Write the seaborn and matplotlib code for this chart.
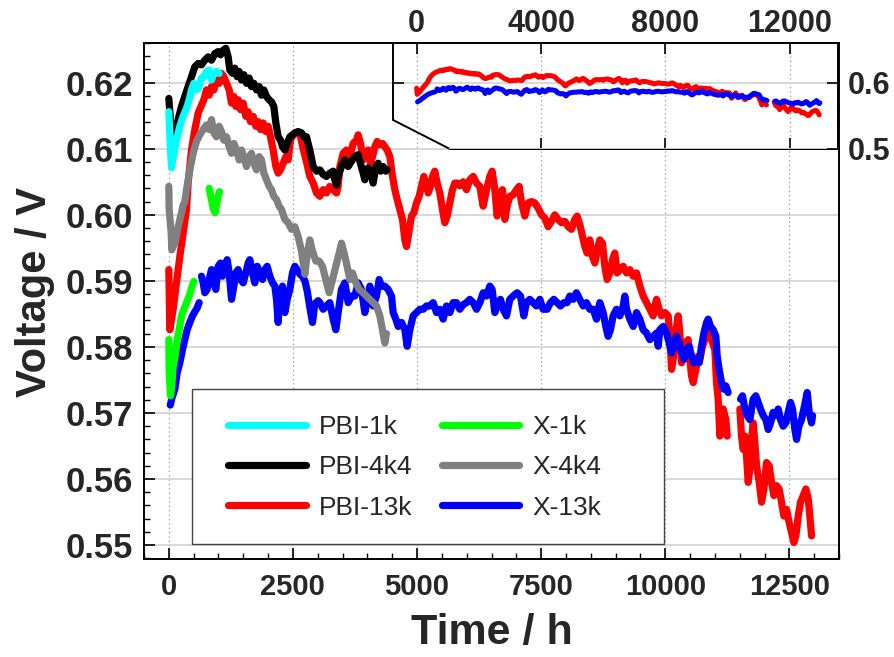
import numpy as np
import pandas as pd
import matplotlib
matplotlib.use("Agg")
import matplotlib.pyplot as plt
import seaborn as sns
from matplotlib.patches import Polygon, Rectangle
from matplotlib.lines import Line2D
from matplotlib.ticker import MultipleLocator, FixedLocator, FormatStrFormatter

# ---------------- data (time in h, voltage in V; None = gap) ----------------
PBI_1K_T = [0, 34, 54, 101, 154, 222, 289, 356, 410, 457, 504, 557, 611, 658, 705, 759, 812, 860, 907, 960, 1014]
PBI_1K_V = [0.6156, 0.6098, 0.6071, 0.6093, 0.6113, 0.6134, 0.6149, 0.6161, 0.6174, 0.6189, 0.6199, 0.6189,
            0.6194, 0.6207, 0.6209, 0.6217, 0.6219, 0.6204, 0.6214, 0.6217, 0.6214]

PBI_4K4_T = [0, 74, 121, 188, 255, 322, 389, 457, 524, 591,
             658, 725, 792, 860, 927, 994, 1041, 1095, 1148, 1195,
             1229, 1283, 1330, 1377, 1417, 1464, 1511, 1565, 1618, 1665,
             1712, 1766, 1820, 1867, 1914, 1968, 2021, 2068, 2115, 2156,
             2203, 2250, 2290, 2337, 2384, 2438, 2491, 2538, 2605, 2673,
             2720, 2773, 2840, 2908, 2975, 3042, 3109, 3176, 3243, 3310,
             3344, 3378, 3411, 3478, 3546, 3613, 3680, 3747, 3814, 3848,
             3915, 3948, 4016, 4083, 4116, 4170, 4217, 4264, 4318, 4371,
             4398]
PBI_4K4_V = [0.6176, 0.6103, 0.6118, 0.6144, 0.6164, 0.6179, 0.6194, 0.6209, 0.6224, 0.6229,
             0.6227, 0.6234, 0.6239, 0.6234, 0.6244, 0.6247, 0.6242, 0.6249, 0.6252, 0.6239,
             0.6219, 0.6214, 0.6222, 0.6209, 0.6217, 0.6204, 0.6212, 0.6199, 0.6207, 0.6194,
             0.6199, 0.6189, 0.6194, 0.6181, 0.6189, 0.6179, 0.6174, 0.6171, 0.6164, 0.6139,
             0.6118, 0.6113, 0.6103, 0.6098, 0.6108, 0.6118, 0.6121, 0.6124, 0.6126, 0.6124,
             0.6118, 0.6118, 0.6098, 0.6073, 0.6066, 0.6068, 0.6061, 0.6058, 0.6063, 0.6066,
             0.6053, 0.6045, 0.6058, 0.6073, 0.6083, 0.6073, 0.6081, 0.6088, 0.6091, 0.6081,
             0.6063, 0.6053, 0.6071, 0.6061, 0.6048, 0.6073, 0.6078, 0.6066, 0.6073, 0.6066,
             0.6068]

PBI_13K_T = [0, 20, 87, 154, 222, 289, 356, 389, 457, 524, 591, 658, 705, 759, 812, 860, 907, 960, 1014, 1061,
             1108, 1162, 1216, 1263, 1310, 1350, 1397, 1444, 1498, 1551, 1598, 1645, 1699, 1753, 1800, 1847, 1900, 1954, 2001, 2048,
             2102, 2156, 2203, 2250, 2303, 2357, 2404, 2451, 2505, 2558, 2605, 2653, 2706, 2773, 2840, 2908, 2975, 3042, 3109, 3176,
             3243, 3310, 3378, 3411, 3445, 3512, 3579, 3646, 3713, 3781, 3814, 3861, 3915, 3968, 4016, 4063, 4103, 4150, 4197, 4251,
             4304, 4351, 4398, 4452, 4506, 4553, 4600, 4653, 4707, 4754, 4788, 4835, 4888, 4935, 4989, 5043, 5090, 5137, 5177, 5224,
             5271, 5311, 5358, 5405, 5459, 5512, 5559, 5606, 5660, 5714, 5761, 5808, 5861, 5929, 5996, 6063, 6131, 6198, 6265, 6332,
             6399, 6466, 6513, 6567, 6614, 6668, 6721, 6768, 6815, 6869, 6936, 7003, 7057, 7104, 7171, 7238, 7305, 7372, 7440, 7507,
             7574, 7641, 7708, 7775, 7842, 7910, 7977, 8044, 8111, 8178, 8225, 8279, 8333, 8380, 8427, 8480, 8534, 8581, 8628, 8682,
             8735, 8782, 8829, 8883, 8937, 8984, 9031, 9085, 9153, 9220, 9287, 9354, 9421, 9488, 9555, 9623, 9690, 9757, 9791, 9824,
             9878, 9925, 9992, 10059, 10093, 10127, 10160, 10194, 10227, 10261, 10294, 10328, 10362, 10415, 10462, 10496, 10530, 10563, 10617, 10664,
             10698, 10751, 10798, 10845, 10899, 10952, 10999, 11033, 11066, 11100, 11134, 11167, 11221, 11248, 11375, 11503, 11536, 11570, 11604, 11637,
             11671, 11704, 11738, 11772, 11805, 11839, 11893, 11940, 11987, 12040, 12094, 12141, 12188, 12242, 12295, 12342, 12389, 12443, 12497, 12544,
             12591, 12631, 12678, 12725, 12779, 12833, 12880, 12913, 12947]
PBI_13K_V = [0.5917, 0.5826, 0.5857, 0.5897, 0.5937, 0.5973, 0.6008, 0.6048, 0.6098, 0.6129, 0.6154, 0.6166, 0.6174, 0.6189, 0.6181, 0.6194, 0.6189, 0.6204, 0.6199, 0.6214,
             0.6209, 0.6199, 0.6189, 0.6169, 0.6179, 0.6164, 0.6174, 0.6159, 0.6169, 0.6149, 0.6156, 0.6141, 0.6149, 0.6134, 0.6141, 0.6129, 0.6139, 0.6126, 0.6134, 0.6118,
             0.6098, 0.6073, 0.6063, 0.6068, 0.6078, 0.6088, 0.6083, 0.6113, 0.6121, 0.6124, 0.6124, 0.6118, 0.6100, 0.6080, 0.6058, 0.6048, 0.6033, 0.6028, 0.6038, 0.6033,
             0.6043, 0.6038, 0.6033, 0.6043, 0.6073, 0.6093, 0.6098, 0.6088, 0.6108, 0.6113, 0.6121, 0.6108, 0.6083, 0.6093, 0.6098, 0.6078, 0.6088, 0.6103, 0.6111, 0.6106,
             0.6108, 0.6103, 0.6098, 0.6088, 0.6058, 0.6038, 0.6023, 0.6008, 0.5993, 0.5962, 0.5952, 0.5973, 0.5998, 0.6003, 0.6018, 0.6028, 0.6043, 0.6058, 0.6048, 0.6033,
             0.6043, 0.6058, 0.6066, 0.6048, 0.6033, 0.6008, 0.5988, 0.5998, 0.6018, 0.6038, 0.6048, 0.6048, 0.6044, 0.6050, 0.6038, 0.6053, 0.6058, 0.6048, 0.6043, 0.6013,
             0.6038, 0.6058, 0.6066, 0.6038, 0.5998, 0.6033, 0.6038, 0.5993, 0.6013, 0.6028, 0.6030, 0.6038, 0.6043, 0.6018, 0.5998, 0.6018, 0.6020, 0.6018, 0.6010, 0.6000,
             0.5995, 0.5982, 0.5990, 0.6000, 0.5993, 0.5988, 0.5990, 0.5982, 0.5978, 0.5993, 0.5998, 0.5985, 0.5967, 0.5952, 0.5942, 0.5962, 0.5937, 0.5927, 0.5947, 0.5962,
             0.5957, 0.5922, 0.5902, 0.5912, 0.5932, 0.5942, 0.5912, 0.5917, 0.5922, 0.5912, 0.5917, 0.5907, 0.5912, 0.5892, 0.5877, 0.5867, 0.5857, 0.5847, 0.5862, 0.5872,
             0.5857, 0.5847, 0.5852, 0.5847, 0.5816, 0.5766, 0.5781, 0.5811, 0.5831, 0.5847, 0.5821, 0.5776, 0.5796, 0.5806, 0.5811, 0.5781, 0.5756, 0.5746, 0.5766, 0.5786,
             0.5781, 0.5801, 0.5811, 0.5837, 0.5821, 0.5806, 0.5796, 0.5746, 0.5721, 0.5665, 0.5680, 0.5706, 0.5690, 0.5665, None, 0.5706, 0.5665, 0.5645, 0.5665, 0.5635,
             0.5595, 0.5615, 0.5660, 0.5685, 0.5655, 0.5620, 0.5595, 0.5565, 0.5585, 0.5625, 0.5620, 0.5595, 0.5575, 0.5590, 0.5585, 0.5565, 0.5544, 0.5554, 0.5534, 0.5519,
             0.5504, 0.5514, 0.5544, 0.5565, 0.5575, 0.5585, 0.5570, 0.5544, 0.5514]

X_1K_T = [0, 7, 34, 60, 87, 128, 168, 208, 255, 302, 356, 410, 457, 504, 650, 812, 853, 893, 933, 960, 994, 1021]
X_1K_V = [0.5811, 0.5761, 0.5726, 0.5741, 0.5771, 0.5786, 0.5811, 0.5826, 0.5847, 0.5857, 0.5867, 0.5877,
          0.5889, 0.5899, None, 0.6040, 0.6025, 0.6010, 0.6003, 0.6015, 0.6028, 0.6035]

X_4K4_T = [0, 7, 47, 60, 87, 121, 154, 188, 222, 255,
           289, 322, 356, 423, 490, 557, 624, 692, 759, 812,
           860, 907, 960, 1014, 1061, 1108, 1162, 1216, 1263, 1310,
           1363, 1417, 1464, 1511, 1565, 1618, 1665, 1712, 1766, 1820,
           1867, 1914, 1968, 2021, 2068, 2115, 2169, 2223, 2270, 2337,
           2404, 2471, 2538, 2605, 2673, 2740, 2787, 2840, 2894, 2961,
           3028, 3095, 3162, 3230, 3297, 3364, 3431, 3478, 3532, 3592,
           3646, 3700, 3767, 3834, 3915, 3982, 4049, 4116, 4183, 4251,
           4304, 4351, 4384]
X_4K4_V = [0.6043, 0.6008, 0.5973, 0.5947, 0.5952, 0.5957, 0.5967, 0.5982, 0.5993, 0.6003,
           0.6015, 0.6020, 0.6038, 0.6068, 0.6093, 0.6111, 0.6121, 0.6129, 0.6136, 0.6129,
           0.6144, 0.6124, 0.6118, 0.6134, 0.6126, 0.6113, 0.6118, 0.6103, 0.6093, 0.6108,
           0.6098, 0.6083, 0.6098, 0.6088, 0.6073, 0.6088, 0.6093, 0.6078, 0.6068, 0.6088,
           0.6083, 0.6063, 0.6053, 0.6043, 0.6038, 0.6028, 0.6023, 0.6013, 0.6008, 0.5993,
           0.5988, 0.5978, 0.5982, 0.5967, 0.5945, 0.5910, 0.5940, 0.5962, 0.5945, 0.5930,
           0.5930, 0.5922, 0.5902, 0.5882, 0.5902, 0.5922, 0.5942, 0.5957, 0.5942, 0.5922,
           0.5902, 0.5912, 0.5897, 0.5887, 0.5882, 0.5877, 0.5872, 0.5867, 0.5862, 0.5847,
           0.5826, 0.5806, 0.5820]

X_13K_T = [30, 60, 121, 168, 222, 275, 322, 369, 423, 477, 530, 571, 611, 635, 658, 692, 725, 772, 812, 860,
           907, 947, 994, 1041, 1081, 1128, 1175, 1216, 1263, 1310, 1350, 1397, 1444, 1498, 1551, 1598, 1632, 1686, 1733, 1780,
           1834, 1887, 1934, 1981, 2035, 2089, 2136, 2169, 2203, 2236, 2290, 2337, 2384, 2438, 2491, 2538, 2585, 2639, 2693, 2740,
           2787, 2840, 2894, 2941, 3008, 3042, 3109, 3176, 3243, 3310, 3364, 3411, 3478, 3546, 3613, 3680, 3747, 3814, 3881, 3948,
           4016, 4049, 4116, 4183, 4237, 4284, 4351, 4418, 4485, 4519, 4573, 4620, 4687, 4754, 4801, 4855, 4922, 4989, 5056, 5123,
           5190, 5258, 5325, 5392, 5459, 5526, 5593, 5660, 5727, 5794, 5861, 5929, 5996, 6063, 6131, 6198, 6265, 6332, 6399, 6466,
           6513, 6567, 6634, 6681, 6735, 6802, 6869, 6936, 7017, 7084, 7151, 7204, 7271, 7339, 7406, 7473, 7540, 7621, 7688, 7755,
           7822, 7889, 7957, 8024, 8077, 8144, 8211, 8279, 8346, 8413, 8480, 8547, 8615, 8682, 8749, 8802, 8849, 8896, 8950, 9017,
           9085, 9153, 9186, 9220, 9287, 9354, 9421, 9488, 9555, 9623, 9690, 9757, 9824, 9858, 9891, 9958, 10026, 10079, 10127, 10173,
           10227, 10281, 10328, 10375, 10428, 10482, 10530, 10577, 10630, 10684, 10731, 10778, 10832, 10865, 10912, 10966, 11019, 11046, 11086, 11133,
           11180, 11220, 11267, 11390, 11516, 11556, 11604, 11651, 11704, 11738, 11772, 11825, 11872, 11919, 11973, 12027, 12074, 12121, 12174, 12228,
           12275, 12322, 12376, 12429, 12477, 12524, 12564, 12611, 12645, 12692, 12745, 12792, 12833, 12860, 12900, 12947, 12967]
X_13K_V = [0.5712, 0.5722, 0.5736, 0.5761, 0.5776, 0.5796, 0.5811, 0.5826, 0.5837, 0.5847, 0.5854, 0.5859, 0.5867, None, 0.5907, 0.5897, 0.5882, 0.5887, 0.5902, 0.5917,
           0.5897, 0.5887, 0.5922, 0.5927, 0.5907, 0.5922, 0.5932, 0.5912, 0.5872, 0.5892, 0.5912, 0.5917, 0.5902, 0.5897, 0.5912, 0.5927, 0.5932, 0.5912, 0.5897, 0.5922,
           0.5912, 0.5902, 0.5917, 0.5922, 0.5907, 0.5897, 0.5892, 0.5872, 0.5837, 0.5877, 0.5892, 0.5852, 0.5872, 0.5887, 0.5912, 0.5922, 0.5917, 0.5910, 0.5907, 0.5900,
           0.5885, 0.5860, 0.5837, 0.5865, 0.5870, 0.5867, 0.5857, 0.5862, 0.5867, 0.5842, 0.5826, 0.5852, 0.5887, 0.5897, 0.5867, 0.5877, 0.5877, 0.5897, 0.5887, 0.5852,
           0.5877, 0.5892, 0.5862, 0.5877, 0.5902, 0.5892, 0.5892, 0.5887, 0.5877, 0.5852, 0.5842, 0.5831, 0.5837, 0.5826, 0.5801, 0.5826, 0.5847, 0.5852, 0.5857, 0.5857,
           0.5862, 0.5862, 0.5867, 0.5852, 0.5857, 0.5842, 0.5862, 0.5852, 0.5867, 0.5867, 0.5857, 0.5864, 0.5867, 0.5872, 0.5867, 0.5857, 0.5867, 0.5882, 0.5877, 0.5892,
           0.5887, 0.5852, 0.5867, 0.5872, 0.5857, 0.5847, 0.5872, 0.5877, 0.5882, 0.5877, 0.5847, 0.5867, 0.5872, 0.5867, 0.5862, 0.5872, 0.5857, 0.5857, 0.5867, 0.5872,
           0.5867, 0.5862, 0.5867, 0.5867, 0.5877, 0.5872, 0.5882, 0.5872, 0.5862, 0.5867, 0.5857, 0.5857, 0.5842, 0.5867, 0.5852, 0.5831, 0.5816, 0.5826, 0.5847, 0.5857,
           0.5847, 0.5862, 0.5877, 0.5857, 0.5842, 0.5831, 0.5852, 0.5842, 0.5826, 0.5821, 0.5811, 0.5816, 0.5821, 0.5801, 0.5826, 0.5831, 0.5821, 0.5806, 0.5791, 0.5801,
           0.5816, 0.5806, 0.5791, 0.5781, 0.5796, 0.5801, 0.5786, 0.5776, 0.5781, 0.5776, 0.5801, 0.5821, 0.5837, 0.5842, 0.5831, 0.5826, 0.5816, 0.5786, 0.5766, 0.5746,
           0.5736, 0.5741, 0.5731, None, 0.5721, 0.5726, 0.5706, 0.5696, 0.5690, 0.5706, 0.5721, 0.5726, 0.5716, 0.5706, 0.5696, 0.5690, 0.5675, 0.5685, 0.5701, 0.5696,
           0.5706, 0.5690, 0.5680, 0.5685, 0.5701, 0.5716, 0.5706, 0.5675, 0.5660, 0.5680, 0.5690, 0.5706, 0.5721, 0.5731, 0.5701, 0.5685, 0.5696]

LEGEND_LABELS = ["PBI-1k", "PBI-4k4", "PBI-13k", "X-1k", "X-4k4", "X-13k"]
MAIN_XTICKS = [0, 2500, 5000, 7500, 10000, 12500]
INSET_XTICKS = [0, 4000, 8000, 12000]
INSET_YTICKS = [0.5, 0.6]


def frame(t, v):
    t = np.asarray(t, dtype=float)
    v = np.array([np.nan if x is None else x for x in v], dtype=float)
    seg = np.cumsum(np.isnan(v))
    df = pd.DataFrame({"t": t, "v": v, "seg": seg})
    return df.dropna().reset_index(drop=True)


sns.set_theme(style="white")
plt.rcParams["font.family"] = ["Liberation Sans", "DejaVu Sans"]
plt.rcParams["font.weight"] = "bold"
plt.rcParams["axes.labelweight"] = "bold"

colors = {"PBI-1k": "#00ffff", "PBI-4k4": "#000000", "PBI-13k": "#ff0000",
          "X-1k": "#00ff00", "X-4k4": "#808080", "X-13k": "#0000ff"}
data = {"PBI-1k": (PBI_1K_T, PBI_1K_V), "PBI-4k4": (PBI_4K4_T, PBI_4K4_V),
        "PBI-13k": (PBI_13K_T, PBI_13K_V), "X-1k": (X_1K_T, X_1K_V),
        "X-4k4": (X_4K4_T, X_4K4_V), "X-13k": (X_13K_T, X_13K_V)}
draw_order = ["PBI-13k", "X-13k", "X-4k4", "PBI-4k4", "PBI-1k", "X-1k"]

W, H = 895, 657
fig = plt.figure(figsize=(W / 100, H / 100), dpi=100)
fig.patch.set_facecolor("white")
ax = fig.add_axes([144 / W, 1 - 559 / H, 695 / W, 516 / H])
ax.set_facecolor("white")

for i, name in enumerate(draw_order):
    df = frame(*data[name])
    sns.lineplot(data=df, x="t", y="v", units="seg", estimator=None, sort=False,
                 color=colors[name], lw=5.2, ax=ax, zorder=2 + 0.1 * i, legend=False,
                 solid_capstyle="round", solid_joinstyle="round")

ax.set_xlim(-500, 13500)
ax.set_ylim(0.5479, 0.6260)
ax.xaxis.set_major_locator(FixedLocator(MAIN_XTICKS))
ax.xaxis.set_minor_locator(MultipleLocator(500))
ax.yaxis.set_major_locator(MultipleLocator(0.01))
ax.yaxis.set_minor_locator(MultipleLocator(0.002))
ax.yaxis.set_major_formatter(FormatStrFormatter("%.2f"))
ax.tick_params(axis="both", which="both", direction="in", top=False, right=False,
               color="black", bottom=True, left=True)
ax.tick_params(which="major", length=8, width=1.2)
ax.tick_params(which="minor", length=4.5, width=1.0)
ax.tick_params(axis="x", which="major", labelsize=21, pad=10)
ax.tick_params(axis="y", which="major", labelsize=25, pad=8)
for lbl in ax.get_xticklabels() + ax.get_yticklabels():
    lbl.set_fontweight("bold")
ax.set_axisbelow(True)
ax.yaxis.grid(True, which="major", color="#d6d6d6", lw=1.3, ls="-")
ax.xaxis.grid(True, which="major", color="#9a9a9a", lw=0.9, ls=(0, (1, 2.5)))
for s in ax.spines.values():
    s.set_color("black")
    s.set_linewidth(1.4)
ax.set_xlabel("Time / h", fontsize=31, fontweight="bold", labelpad=9)
ax.set_ylabel("Voltage / V", fontsize=30, fontweight="bold")
ax.yaxis.set_label_coords((55 - 144) / 695, (559 - 292) / 516)

# legend: frame drawn as its own box, entries placed inside
box = Rectangle((192 / W, 1 - 544 / H), (664 - 192) / W, (544 - 389) / H,
                transform=fig.transFigure, facecolor="white", edgecolor="#444444",
                lw=1.0, zorder=9, clip_on=False)
ax.add_patch(box)
handles = [Line2D([0], [0], color=colors[n], lw=5.2) for n in LEGEND_LABELS]
leg = ax.legend(handles, LEGEND_LABELS, ncol=2, loc="upper left",
                bbox_to_anchor=((228 - 144) / 695, (559 - 415) / 516),
                prop={"size": 19, "weight": "normal"},
                frameon=False, handlelength=2.95, handletextpad=0.5, columnspacing=1.1,
                borderpad=0, labelspacing=0.62, borderaxespad=0)
leg.set_zorder(10)

# ---------------- inset ----------------
axin = fig.add_axes([393 / W, 1 - 149 / H, 445 / W, 106 / H])
axin.patch.set_visible(False)
poly = Polygon([(0, 1), (0, 0.274), (0.128, 0), (1, 0), (1, 1)], closed=True,
               transform=axin.transAxes, facecolor="white", edgecolor="black",
               lw=1.4, zorder=0.1, clip_on=False)
axin.add_patch(poly)
for i, name in enumerate(["PBI-13k", "X-13k"]):
    df = frame(*data[name])
    sns.lineplot(data=df, x="t", y="v", units="seg", estimator=None, sort=False,
                 color=colors[name], lw=3.6, ax=axin, zorder=2 + 0.1 * i, legend=False,
                 solid_capstyle="round", solid_joinstyle="round")
axin.set_xlim(-760, 13550)
axin.set_ylim(0.5, 0.66)
axin.set_xlabel("")
axin.set_ylabel("")
axin.xaxis.set_major_locator(FixedLocator(INSET_XTICKS))
axin.yaxis.set_major_locator(FixedLocator(INSET_YTICKS))
axin.yaxis.set_major_formatter(FormatStrFormatter("%.1f"))
axin.tick_params(axis="x", which="major", direction="in", top=True, bottom=True,
                 labeltop=True, labelbottom=False, length=8, width=1.2, pad=3,
                 labelsize=22, color="black")
axin.tick_params(axis="y", which="major", direction="in", left=True, right=True,
                 labelleft=False, labelright=True, length=8, width=1.2, pad=7,
                 labelsize=22, color="black")
for lbl in axin.get_xticklabels() + axin.get_yticklabels():
    lbl.set_fontweight("bold")
axin.spines["left"].set_visible(False)
axin.spines["bottom"].set_visible(False)
for s in ("top", "right"):
    axin.spines[s].set_color("black")
    axin.spines[s].set_linewidth(1.4)
axin.set_axisbelow(True)
axin.yaxis.grid(True, which="major", color="#d6d6d6", lw=1.3, ls="-")
axin.xaxis.grid(True, which="major", color="#9a9a9a", lw=0.9, ls=(0, (1, 2.5)))
for tk in axin.xaxis.get_major_ticks():
    if tk.get_loc() == 0:
        tk.tick1line.set_visible(False)
for tk in axin.yaxis.get_major_ticks():
    if abs(tk.get_loc() - 0.5) < 1e-9:
        tk.tick1line.set_visible(False)
for gl in axin.get_xgridlines() + axin.get_ygridlines():
    gl.set_clip_path(poly)

fig.savefig("out.png", dpi=100, facecolor="white")
